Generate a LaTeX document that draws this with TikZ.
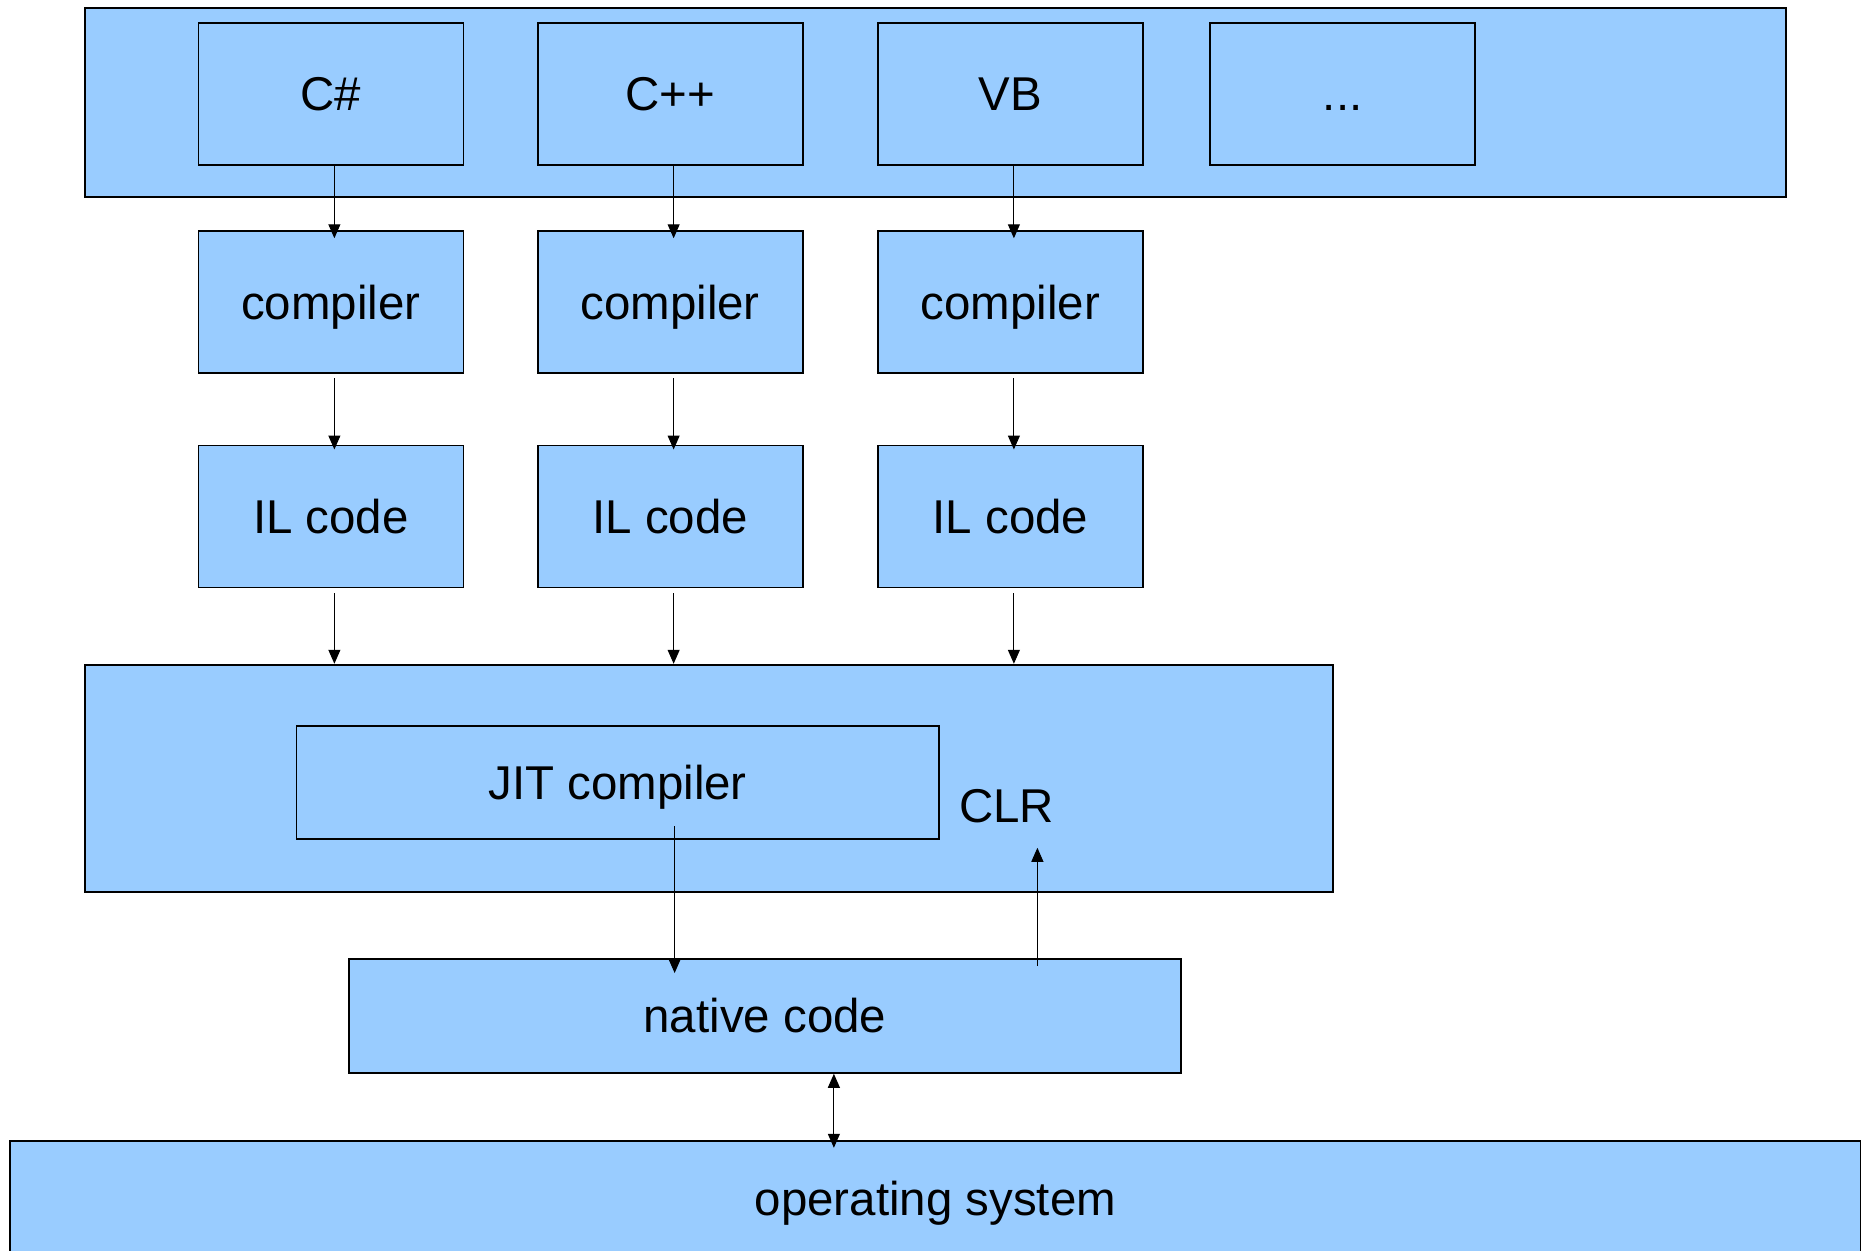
\documentclass[tikz,border=0pt]{standalone}
\usepackage{fontspec}
\setmainfont{Liberation Sans}
\usepackage{xcolor}
\usetikzlibrary{arrows.meta,positioning}
\definecolor{boxblue}{RGB}{153,204,255}
\tikzset{
  panel/.style 2 args={
    rectangle, draw=black, fill=boxblue, line width=1pt,
    minimum width=#1, minimum height=#2, inner sep=0pt,
    font=\fontsize{27}{32}\selectfont,
    text height=19.4pt, text depth=0pt},
  block/.style={panel={5.3cm}{2.84cm}},
  lbl/.style={inner sep=0pt, font=\fontsize{27}{32}\selectfont,
    text height=19.4pt, text depth=0pt},
  myarrow/.style={-{Triangle[length=0.28cm,width=0.24cm]}, line width=0.6pt},
  myarrowboth/.style={{Triangle[length=0.28cm,width=0.24cm]}-{Triangle[length=0.28cm,width=0.24cm]}, line width=0.6pt},
}

\begin{document}
\begin{tikzpicture}
  \useasboundingbox (0,0) rectangle (37.22,-25);
  % languages
  \node[panel={34.02cm}{3.78cm}, anchor=north west] (langs) at (1.68,-0.14) {};
  \node[block, below right=0.3cm and 2.27cm of langs.north west] (cs) {C\#};
  \node[block, right=1.45cm of cs] (cpp) {C++};
  \node[block, right=1.47cm of cpp] (vb) {VB};
  \node[block, right=1.31cm of vb] (more) {...};
  % compilers
  \node[block, below=1.29cm of cs] (csc) {compiler};
  \node[block, below=1.29cm of cpp] (cppc) {compiler};
  \node[block, below=1.29cm of vb] (vbc) {compiler};
  % IL code
  \node[block, below=1.41cm of csc] (csil) {IL code};
  \node[block, below=1.41cm of cppc] (cppil) {IL code};
  \node[block, below=1.41cm of vbc] (vbil) {IL code};
  % CLR and below
  \node[panel={24.96cm}{4.54cm}, anchor=north west] (clr) at ([yshift=-1.51cm]langs.west |- csil.south) {};
  \node[panel={12.85cm}{2.27cm}, below right=1.22cm and 4.23cm of clr.north west] (jit) {JIT compiler};
  \node[lbl, anchor=base west] (clrlbl) at ([xshift=0.38cm,yshift=-0.8cm]jit.east) {CLR};
  \node[panel={16.64cm}{2.28cm}, below right=1.31cm and 5.28cm of clr.south west] (native) {native code};
  \node[panel={37.01cm}{2.32cm}, below=1.32cm of native, xshift=3.41cm] (os) {operating system};
  \coordinate (jitout) at ([xshift=1.14cm,yshift=0.28cm]jit.south);
  \coordinate (nativeout) at ([xshift=5.45cm,yshift=-0.16cm]native.north);
  \coordinate (osio) at ([xshift=1.38cm]native.south);
  % arrows
  \draw[myarrow, shorten >=-0.16cm] ([xshift=0.07cm]cs.south) -- ([xshift=0.07cm]cs.south |- csc.north);
  \draw[myarrow, shorten >=-0.16cm] ([xshift=0.07cm]cpp.south) -- ([xshift=0.07cm]cpp.south |- cppc.north);
  \draw[myarrow, shorten >=-0.16cm] ([xshift=0.07cm]vb.south) -- ([xshift=0.07cm]vb.south |- vbc.north);
  \draw[myarrow, shorten >=-0.1cm] ([xshift=0.07cm,yshift=-0.08cm]csc.south) -- ([xshift=0.07cm]csc.south |- csil.north);
  \draw[myarrow, shorten >=-0.1cm] ([xshift=0.07cm,yshift=-0.08cm]cppc.south) -- ([xshift=0.07cm]cppc.south |- cppil.north);
  \draw[myarrow, shorten >=-0.1cm] ([xshift=0.07cm,yshift=-0.08cm]vbc.south) -- ([xshift=0.07cm]vbc.south |- vbil.north);
  \draw[myarrow] ([xshift=0.07cm,yshift=-0.1cm]csil.south) -- ([xshift=0.07cm]csil.south |- clr.north);
  \draw[myarrow] ([xshift=0.07cm,yshift=-0.1cm]cppil.south) -- ([xshift=0.07cm]cppil.south |- clr.north);
  \draw[myarrow] ([xshift=0.07cm,yshift=-0.1cm]vbil.south) -- ([xshift=0.07cm]vbil.south |- clr.north);
  \draw[myarrow, shorten >=-0.3cm] (jitout) -- (jitout |- native.north);
  \draw[myarrow, shorten >=0.5cm] (nativeout) -- (nativeout |- clrlbl.south);
  \draw[myarrowboth, shorten >=-0.16cm] (osio) -- (osio |- os.north);
\end{tikzpicture}
\end{document}
